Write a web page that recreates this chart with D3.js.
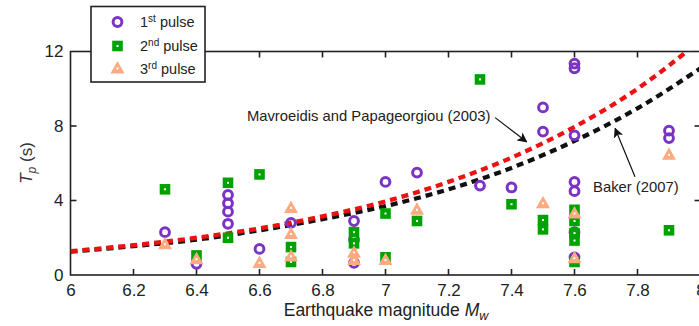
<!DOCTYPE html>
<html>
<head>
<meta charset="utf-8">
<script src="https://cdn.jsdelivr.net/npm/d3@7"></script>
<style>
  html, body { margin: 0; padding: 0; background: #fff; }
  svg { display: block; font-family: "Liberation Sans", Arial, Helvetica, sans-serif; }
</style>
</head>
<body>
<svg id="chart" width="699" height="326"></svg>
<script>
// Pulse periods Tp (s) per earthquake magnitude Mw
const pulse1Mw = [6.3, 6.4, 6.5, 6.5, 6.5, 6.5, 6.6, 6.7, 6.9, 6.9, 6.9, 7.0, 7.1, 7.3, 7.4, 7.5, 7.5, 7.6, 7.6, 7.6, 7.6, 7.6, 7.6, 7.6, 7.9, 7.9];
const pulse1Tp = [2.3, 0.6, 4.3, 3.85, 3.4, 2.75, 1.4, 2.8, 2.9, 1.9, 0.65, 5.0, 5.5, 4.8, 4.7, 9.0, 7.7, 11.35, 11.1, 7.5, 5.0, 4.5, 2.3, 0.95, 7.75, 7.35];

const pulse2Mw = [6.3, 6.4, 6.5, 6.5, 6.6, 6.7, 6.7, 6.9, 6.9, 7.0, 7.0, 7.1, 7.3, 7.4, 7.5, 7.5, 7.6, 7.6, 7.6, 7.6, 7.6, 7.9];
const pulse2Tp = [4.6, 1.05, 4.95, 2.0, 5.4, 1.5, 0.7, 2.3, 1.7, 3.3, 0.95, 2.9, 10.5, 3.8, 2.95, 2.45, 3.5, 2.9, 2.25, 1.85, 0.7, 2.4];

const pulse3Mw = [6.3, 6.4, 6.6, 6.7, 6.7, 6.7, 6.9, 6.9, 7.0, 7.1, 7.5, 7.6, 7.6, 7.9];
const pulse3Tp = [1.65, 0.85, 0.65, 3.6, 2.2, 1.0, 1.2, 0.8, 0.8, 3.5, 3.85, 3.3, 0.9, 6.45];

// Model curves Tp(Mw)
const curveMw = [6.0, 6.2, 6.4, 6.6, 6.8, 7.0, 7.2, 7.4, 7.6, 7.8, 8.0];
const mavroeidisTp = [1.28, 1.6, 2.0, 2.5, 3.15, 3.95, 5.0, 6.3, 7.95, 10.0, 12.6];
const bakerTp = [1.25, 1.55, 1.9, 2.4, 3.0, 3.7, 4.6, 5.75, 7.2, 8.95, 11.1];

// Axis ticks
const xTickValues = [6, 6.2, 6.4, 6.6, 6.8, 7, 7.2, 7.4, 7.6, 7.8, 8];
const yTickValues = [0, 4, 8, 12];

const legendLabels = [["1", "st"], ["2", "nd"], ["3", "rd"]];

const colors = { p1: "#7a33c4", p2: "#00a200", p3: "#fbab82", mav: "#ee1111", baker: "#111111", axis: "#222" };

const svg = d3.select("#chart");
const plotLeft = 70.5, plotRight = 700.5, plotTop = 51.5, plotBottom = 275;
const x = d3.scaleLinear().domain([6, 8]).range([plotLeft, plotRight]);
const y = d3.scaleLinear().domain([0, 12]).range([plotBottom, plotTop]);

const defs = svg.append("defs");
defs.append("clipPath").attr("id", "plotClip")
  .append("rect").attr("x", plotLeft).attr("y", plotTop)
  .attr("width", plotRight - plotLeft).attr("height", plotBottom - plotTop);

defs.append("marker")
  .attr("id", "arrowHead").attr("viewBox", "0 0 10 10").attr("refX", 9).attr("refY", 5)
  .attr("markerWidth", 10).attr("markerHeight", 10).attr("markerUnits", "userSpaceOnUse")
  .attr("orient", "auto")
  .append("path").attr("d", "M0,0 L10,5 L0,10 L2.5,5 Z").attr("fill", "#111");

// Tick labels
const fmt = d => d3.format("~g")(d);
const gx = svg.append("g").attr("transform", `translate(0,${plotBottom})`)
  .call(d3.axisBottom(x).tickValues(xTickValues).tickSize(0).tickPadding(9).tickFormat(fmt));
const gy = svg.append("g").attr("transform", `translate(${plotLeft},0)`)
  .call(d3.axisLeft(y).tickValues(yTickValues).tickSize(0).tickPadding(7).tickFormat(fmt));
[gx, gy].forEach(g => {
  g.select(".domain").remove();
  g.selectAll("text").attr("fill", colors.axis).style("font-size", "17px");
});

// Frame with inward ticks
const frame = svg.append("g").attr("stroke", colors.axis).attr("stroke-width", 1.6).attr("fill", "none");
frame.append("rect").attr("x", plotLeft).attr("y", plotTop)
  .attr("width", plotRight - plotLeft).attr("height", plotBottom - plotTop);
const innerX = xTickValues.filter(v => v > 6 && v < 8);
frame.append("g").selectAll("line").data(innerX).join("line")
  .attr("x1", d => x(d)).attr("x2", d => x(d)).attr("y1", plotBottom).attr("y2", plotBottom - 6);
frame.append("g").selectAll("line").data(innerX).join("line")
  .attr("x1", d => x(d)).attr("x2", d => x(d)).attr("y1", plotTop).attr("y2", plotTop + 6);
const innerY = yTickValues.filter(v => v > 0 && v < 12);
frame.append("g").selectAll("line").data(innerY).join("line")
  .attr("x1", plotLeft).attr("x2", plotLeft + 6).attr("y1", d => y(d)).attr("y2", d => y(d));
frame.append("g").selectAll("line").data(innerY).join("line")
  .attr("x1", plotRight).attr("x2", plotRight - 6).attr("y1", d => y(d)).attr("y2", d => y(d));

// Axis titles
const xt = svg.append("text").attr("x", 386).attr("y", 316).attr("text-anchor", "middle")
  .attr("fill", colors.axis).style("font-size", "17.5px");
xt.append("tspan").text("Earthquake magnitude ");
xt.append("tspan").attr("font-style", "italic").text("M");
xt.append("tspan").attr("font-style", "italic").attr("dy", 4).style("font-size", "12.5px").text("w");

const yt = svg.append("text").attr("transform", "translate(32,163) rotate(-90)")
  .attr("text-anchor", "middle").attr("fill", "#333").style("font-size", "17px");
yt.append("tspan").attr("font-style", "italic").text("T");
yt.append("tspan").attr("font-style", "italic").attr("dy", 4).style("font-size", "12px").text("p");
yt.append("tspan").attr("dy", -4).text(" (s)");

// Model curves
const plot = svg.append("g").attr("clip-path", "url(#plotClip)");
const line = d3.line().x(d => x(d[0])).y(d => y(d[1])).curve(d3.curveMonotoneX);
plot.append("path").datum(d3.zip(curveMw, bakerTp)).attr("d", line)
  .attr("fill", "none").attr("stroke", colors.baker).attr("stroke-width", 4.3).attr("stroke-dasharray", "7,5");
plot.append("path").datum(d3.zip(curveMw, mavroeidisTp)).attr("d", line)
  .attr("fill", "none").attr("stroke", colors.mav).attr("stroke-width", 4.3).attr("stroke-dasharray", "7,5");

// Markers
function drawCircle(g, cx, cy) {
  g.append("circle").attr("cx", cx).attr("cy", cy).attr("r", 4.4)
    .attr("fill", "none").attr("stroke", colors.p1).attr("stroke-width", 3);
}
function drawSquare(g, cx, cy) {
  g.append("rect").attr("x", cx - 5.3).attr("y", cy - 5.3).attr("width", 10.6).attr("height", 10.6).attr("fill", colors.p2);
  g.append("rect").attr("x", cx - 1).attr("y", cy - 1).attr("width", 2).attr("height", 2).attr("fill", "#fff");
}
const triPath = "M0,-7.5 L7,5 L-7,5 Z";
function drawTriangle(g, cx, cy) {
  g.append("path").attr("d", triPath).attr("transform", `translate(${cx},${cy})`).attr("fill", colors.p3);
  g.append("rect").attr("x", cx - 1).attr("y", cy - 1).attr("width", 2).attr("height", 2).attr("fill", "#fff");
}

const pts = svg.append("g");
d3.zip(pulse1Mw, pulse1Tp).forEach(([m, t]) => drawCircle(pts, x(m), y(t)));
d3.zip(pulse2Mw, pulse2Tp).forEach(([m, t]) => drawSquare(pts, x(m), y(t)));
d3.zip(pulse3Mw, pulse3Tp).forEach(([m, t]) => drawTriangle(pts, x(m), y(t)));

// Curve annotations
const ann = svg.append("g").style("font-size", "14.8px").attr("fill", "#222");
ann.append("text").attr("x", x(7.333)).attr("y", y(8.55)).attr("dy", "0.35em").attr("text-anchor", "end")
  .text("Mavroeidis and Papageorgiou (2003)");
ann.append("line").attr("x1", x(7.348)).attr("y1", y(8.45)).attr("x2", x(7.448)).attr("y2", y(7.15))
  .attr("stroke", "#111").attr("stroke-width", 1.2).attr("marker-end", "url(#arrowHead)");
ann.append("text").attr("x", x(7.659)).attr("y", y(4.73)).attr("dy", "0.35em").text("Baker (2007)");
ann.append("line").attr("x1", x(7.792)).attr("y1", y(5.27)).attr("x2", x(7.729)).attr("y2", y(7.87))
  .attr("stroke", "#111").attr("stroke-width", 1.2).attr("marker-end", "url(#arrowHead)");

// Legend
const lg = svg.append("g");
lg.append("rect").attr("x", 91).attr("y", 6.5).attr("width", 114).attr("height", 75.5)
  .attr("fill", "#fff").attr("stroke", colors.axis).attr("stroke-width", 1.6);
const rowY = [22, 46, 68.5];
drawCircle(lg, 117.5, rowY[0]);
drawSquare(lg, 117.5, rowY[1]);
drawTriangle(lg, 117.5, rowY[2]);
legendLabels.forEach(([n, sup], i) => {
  const t = lg.append("text").attr("x", 140).attr("y", rowY[i] + 5).attr("fill", "#222").style("font-size", "14.5px");
  t.append("tspan").text(n);
  t.append("tspan").attr("dy", -5).style("font-size", "10px").text(sup);
  t.append("tspan").attr("dy", 5).text(" pulse");
});
</script>
</body>
</html>
